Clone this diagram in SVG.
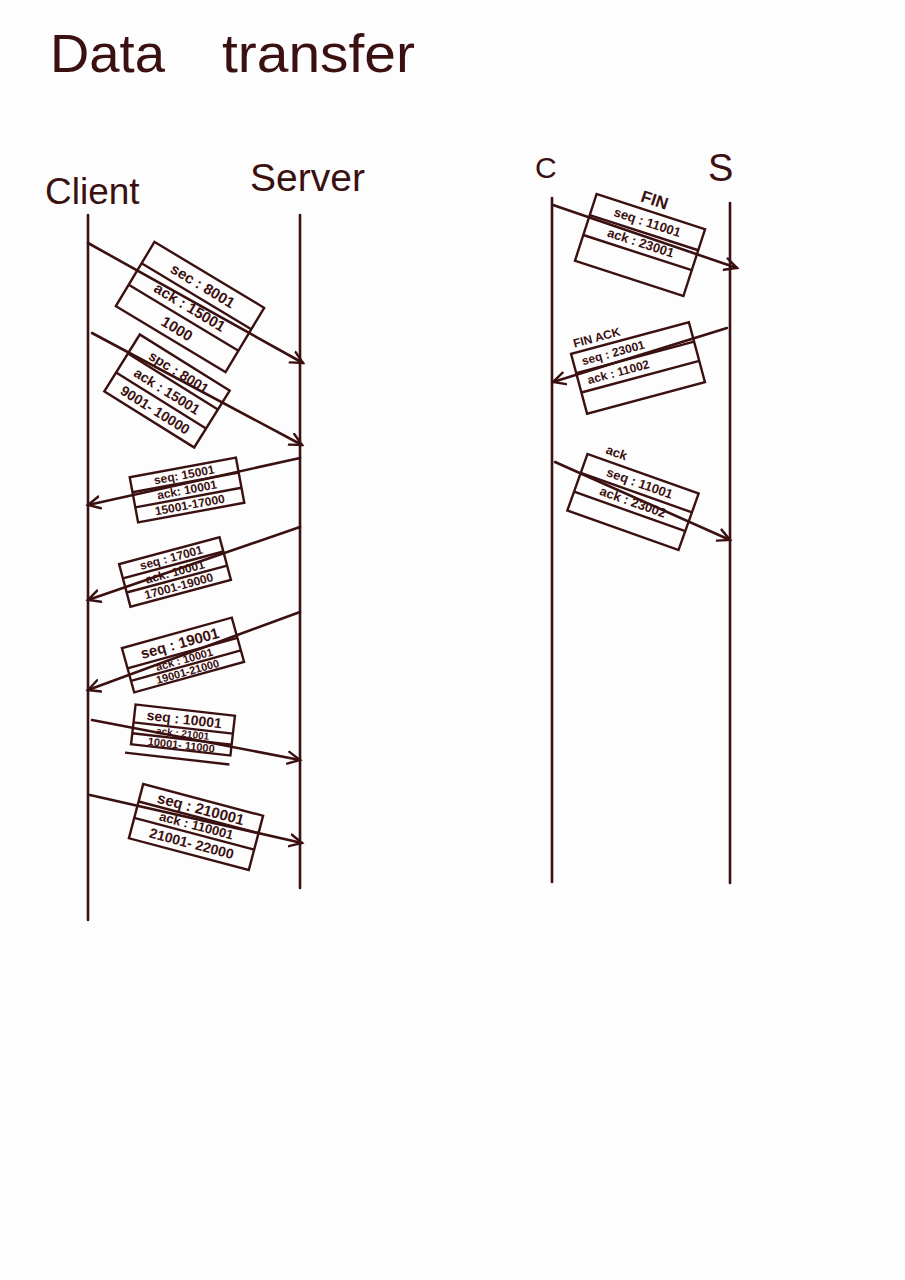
<svg xmlns="http://www.w3.org/2000/svg" width="905" height="1280" viewBox="0 0 905 1280">
<style>
.ln{stroke:#3b1010;stroke-width:2.6;fill:none;stroke-linecap:round}
.bx{stroke:#3b1010;stroke-width:2.4;fill:none}
.t{font-family:"Liberation Sans",Arial,sans-serif;font-weight:bold;fill:#3b1010;text-anchor:middle;dominant-baseline:central}
.h{font-family:"Liberation Sans",Arial,sans-serif;fill:#3b1010}
</style>
<defs>
<marker id="ah" markerUnits="userSpaceOnUse" markerWidth="16" markerHeight="16" refX="13" refY="7" orient="auto" viewBox="0 0 16 14">
<path d="M1,1 L13,7 L1,13" fill="none" stroke="#3b1010" stroke-width="2.4" stroke-linecap="round"/>
</marker>
</defs>
<rect width="905" height="1280" fill="#fdfdfd"/>
<text class="h" y="72" font-size="54"><tspan x="50" textLength="115" lengthAdjust="spacingAndGlyphs">Data</tspan> <tspan x="222" textLength="193" lengthAdjust="spacingAndGlyphs">transfer</tspan></text>

<g id="client"><text class="h" x="45" y="204" font-size="37">Client</text><line class="ln" x1="88" y1="215" x2="88" y2="920"/></g>
<g id="server"><text class="h" x="250" y="191" font-size="39">Server</text><line class="ln" x1="300" y1="215" x2="300" y2="888"/></g>
<g id="c"><text class="h" x="535" y="178" font-size="30">C</text><line class="ln" x1="552" y1="198" x2="552" y2="882"/></g>
<g id="s"><text class="h" x="708" y="181" font-size="38">S</text><line class="ln" x1="730" y1="203" x2="730" y2="883"/></g>

<g id="connectors">
<line class="ln" x1="88" y1="243" x2="303" y2="363" marker-end="url(#ah)"/>
<line class="ln" x1="92" y1="333" x2="302" y2="445" marker-end="url(#ah)"/>
<line class="ln" x1="300" y1="458" x2="88" y2="505" marker-end="url(#ah)"/>
<line class="ln" x1="300" y1="527" x2="88" y2="600" marker-end="url(#ah)"/>
<line class="ln" x1="300" y1="612" x2="88" y2="690" marker-end="url(#ah)"/>
<line class="ln" x1="92" y1="720" x2="300" y2="760" marker-end="url(#ah)"/>
<line class="ln" x1="90" y1="795" x2="302" y2="843" marker-end="url(#ah)"/>
<line class="ln" x1="553" y1="205" x2="737" y2="268" marker-end="url(#ah)"/>
<line class="ln" x1="727" y1="328" x2="553" y2="382" marker-end="url(#ah)"/>
<line class="ln" x1="555" y1="462" x2="730" y2="540" marker-end="url(#ah)"/>
</g>

<g id="box1" transform="translate(190,307) rotate(31)">
<rect class="bx" x="-64" y="-37.5" width="128" height="75"/>
<line class="bx" x1="-64" y1="-12.5" x2="64" y2="-12.5"/><line class="bx" x1="-64" y1="12.5" x2="64" y2="12.5"/>
<text class="t" y="-25" font-size="15">sec : 8001</text><text class="t" y="0" font-size="15">ack : 15001</text><text class="t" y="25" font-size="15">1000</text>
</g>
<g id="box2" transform="translate(167,391) rotate(32)">
<rect class="bx" x="-53" y="-33.5" width="106" height="67"/>
<line class="bx" x1="-53" y1="-11.2" x2="53" y2="-11.2"/><line class="bx" x1="-53" y1="11.2" x2="53" y2="11.2"/>
<text class="t" y="-22.3" font-size="14">spc : 8001</text><text class="t" y="0" font-size="14">ack : 15001</text><text class="t" y="22.3" font-size="14">9001- 10000</text>
</g>
<g id="box3" transform="translate(187,490) rotate(-10.5)">
<rect class="bx" x="-54" y="-23" width="108" height="46"/>
<line class="bx" x1="-54" y1="-7.7" x2="54" y2="-7.7"/><line class="bx" x1="-54" y1="7.7" x2="54" y2="7.7"/>
<text class="t" y="-15.3" font-size="12">seq: 15001</text><text class="t" y="0" font-size="12">ack: 10001</text><text class="t" y="15.3" font-size="12">15001-17000</text>
</g>
<g id="box4" transform="translate(175,572) rotate(-15)">
<rect class="bx" x="-52" y="-22" width="104" height="44"/>
<line class="bx" x1="-52" y1="-7.3" x2="52" y2="-7.3"/><line class="bx" x1="-52" y1="7.3" x2="52" y2="7.3"/>
<text class="t" y="-14.7" font-size="12">seq : 17001</text><text class="t" y="0" font-size="12">ack: 10001</text><text class="t" y="14.7" font-size="12">17001-19000</text>
</g>
<g id="box5" transform="translate(183,655) rotate(-15.5)">
<rect class="bx" x="-57" y="-23" width="114" height="46"/>
<line class="bx" x1="-57" y1="-2" x2="57" y2="-2"/><line class="bx" x1="-57" y1="11" x2="57" y2="11"/>
<text class="t" y="-12.5" font-size="15">seq : 19001</text><text class="t" y="4.5" font-size="11">ack : 10001</text><text class="t" y="17" font-size="11">19001-21000</text>
</g>
<g id="box6" transform="translate(183,730) rotate(6.5)">
<rect class="bx" x="-50" y="-20" width="100" height="40"/>
<line class="bx" x1="-50" y1="-2" x2="50" y2="-2"/><line class="bx" x1="-50" y1="9" x2="50" y2="9"/>
<line class="bx" x1="-55" y1="29" x2="50" y2="29"/>
<text class="t" y="-11" font-size="14">seq : 10001</text><text class="t" y="3.5" font-size="10">ack : 21001</text><text class="t" y="15" font-size="11">10001- 11000</text>
</g>
<g id="box7" transform="translate(196,827) rotate(14.8)">
<rect class="bx" x="-62" y="-28" width="124" height="56"/>
<line class="bx" x1="-62" y1="-10" x2="62" y2="-10"/><line class="bx" x1="-62" y1="7" x2="62" y2="7"/>
<text class="t" y="-19" font-size="15">seq : 210001</text><text class="t" y="-1.5" font-size="13">ack : 110001</text><text class="t" y="17" font-size="14">21001- 22000</text>
</g>

<g id="fin" transform="translate(640,245) rotate(18)">
<text class="t" x="0" y="-47" font-size="17">FIN</text>
<rect class="bx" x="-57" y="-35" width="114" height="70"/>
<line class="bx" x1="-57" y1="-13" x2="57" y2="-13"/><line class="bx" x1="-57" y1="8" x2="57" y2="8"/>
<text class="t" y="-24" font-size="13">seq : 11001</text><text class="t" y="-2.5" font-size="13">ack : 23001</text>
</g>
<g id="finack" transform="translate(638,368) rotate(-15)">
<text class="t" x="-32" y="-40" font-size="12">FIN ACK</text>
<rect class="bx" x="-61" y="-31" width="122" height="62"/>
<line class="bx" x1="-61" y1="-11" x2="61" y2="-11"/><line class="bx" x1="-61" y1="9" x2="61" y2="9"/>
<text class="t" x="-20" y="-21" font-size="12">seq : 23001</text><text class="t" x="-20" y="-1" font-size="12">ack : 11002</text>
</g>
<g id="ackbox" transform="translate(633,502) rotate(19.6)">
<text class="t" x="-32" y="-41" font-size="13">ack</text>
<rect class="bx" x="-59" y="-30" width="118" height="60"/>
<line class="bx" x1="-59" y1="-10" x2="59" y2="-10"/><line class="bx" x1="-59" y1="10" x2="59" y2="10"/>
<text class="t" y="-20" font-size="13">seq : 11001</text><text class="t" y="0" font-size="13">ack : 23002</text>
</g>
</svg>
